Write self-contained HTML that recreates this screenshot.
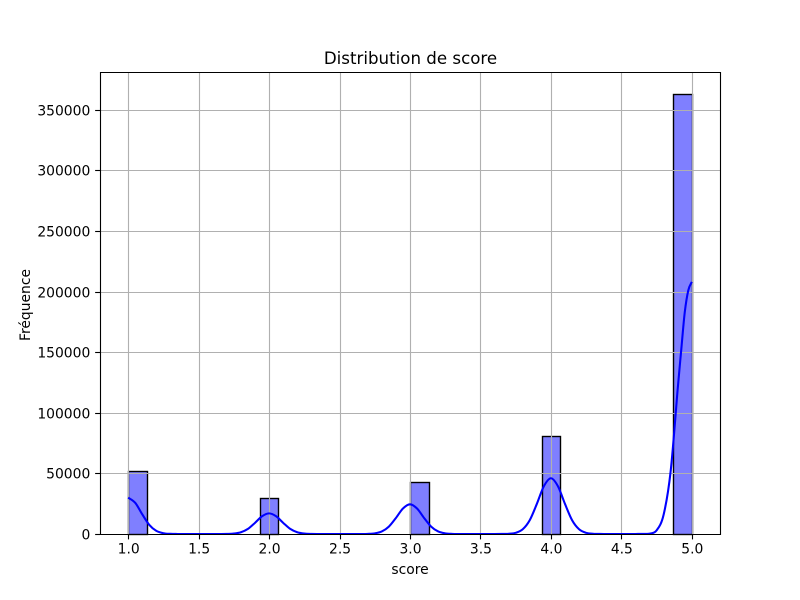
<!DOCTYPE html>
<html lang="fr">
<head>
<meta charset="utf-8">
<title>Distribution de score</title>
<style>
html,body{margin:0;padding:0;background:#fff;}
svg{display:block;}
text{font-family:"DejaVu Sans","Liberation Sans",sans-serif;fill:#000;}
</style>
</head>
<body>
<svg id="chart" xmlns="http://www.w3.org/2000/svg" width="800" height="600" viewBox="0 0 800 600">
  <rect x="0" y="0" width="800" height="600" fill="#ffffff"/>
  <rect x="100" y="72" width="620" height="462" fill="#ffffff"/>
  <g id="bars"></g>
  <g id="grid"></g>
  <path id="kde" fill="none" stroke="#0000ff" stroke-width="2.08" stroke-linejoin="round" stroke-linecap="butt"/>
  <g id="ticks"></g>
  <path d="M100.5 72.5H720.5V534.5H100.5Z" fill="none" stroke="#000" stroke-width="1.11"/>
  <text x="410.5" y="64.2" font-size="16.67" text-anchor="middle">Distribution de score</text>
  <text x="410" y="574" font-size="13.89" text-anchor="middle">score</text>
  <text transform="translate(30,305) rotate(-90)" font-size="13.89" text-anchor="middle">Fréquence</text>
</svg>
<script>
// Histogram: 30 bins spanning score 1 to 5
const binStart = 1;
const binEnd = 5;
const binCounts = [52000,0,0,0,0,0,0,30000,0,0,0,0,0,0,0,43000,0,0,0,0,0,0,81000,0,0,0,0,0,0,363000];
// KDE curve sampled every 0.05 score from 1.0 to 4.9, one row per unit of score
const kdeStep = 0.05;
const kdeValues = [
  30000,25700,16200,7500,2550,630,120,15,0,0,0,0,0,8,66,360,1450,4200,9200,14600,
  17000,14600,9200,4200,1450,360,66,8,0,0,0,0,0,12,95,515,2080,6100,13200,21000,
  24500,21000,13200,6100,2080,515,95,12,0,0,0,0,0,23,180,970,3900,11450,24800,39400,
  46000,39400,24800,11450,3900,970,180,23,0,0,0,0,20,60,300,3000,16000,52000,120000
];
// Last part of the KDE, sampled every 0.025 score from 4.925 to 5.0
const kdeTailStep = 0.025;
const kdeTailValues = [152000,183000,201000,208000];
const xTicks = [1.0,1.5,2.0,2.5,3.0,3.5,4.0,4.5,5.0];
const xTickLabels = ["1.0","1.5","2.0","2.5","3.0","3.5","4.0","4.5","5.0"];
const yTicks = [0,50000,100000,150000,200000,250000,300000,350000];
const yTickLabels = ["0","50000","100000","150000","200000","250000","300000","350000"];

const NS = "http://www.w3.org/2000/svg";
const plot = {left:100,right:720,top:72,bottom:534};
const xMin = binStart-(binEnd-binStart)*0.05, xMax = binEnd+(binEnd-binStart)*0.05;
const yMax = Math.max.apply(null,binCounts)*1.05;
function xScale(v){return plot.left+(v-xMin)/(xMax-xMin)*(plot.right-plot.left);}
function yScale(v){return plot.bottom-v/yMax*(plot.bottom-plot.top);}
function snap(p){return Math.round(p)+0.5;}
function make(tag,parent,attrs){
  const el=document.createElementNS(NS,tag);
  for(const k in attrs){el.setAttribute(k,attrs[k]);}
  parent.appendChild(el);
  return el;
}

const barsG=document.getElementById("bars");
const gridG=document.getElementById("grid");
const ticksG=document.getElementById("ticks");
const binWidth=(binEnd-binStart)/binCounts.length;
binCounts.forEach(function(c,i){
  if(c<=0){return;}
  const x0=snap(xScale(binStart+i*binWidth)), x1=snap(xScale(binStart+(i+1)*binWidth)), y=snap(yScale(c)), b=snap(plot.bottom);
  const bar=make("rect",barsG,{x:x0,y:y,width:x1-x0,height:b-y,fill:"rgba(0,0,255,0.5)",stroke:"#000","stroke-width":1.39});
  
  
});

xTicks.forEach(function(v,i){
  const x=snap(xScale(v));
  const g=make("line",gridG,{x1:x,x2:x,y1:plot.top,y2:plot.bottom,stroke:"#b0b0b0","stroke-width":1.11});
  
  
  const t=make("line",ticksG,{x1:x,x2:x,y1:plot.bottom,y2:plot.bottom+5.4,stroke:"#000","stroke-width":1.11});
  
  
  const l=make("text",ticksG,{x:xScale(v)+0.5,y:553.3,"font-size":13.89,"text-anchor":"middle"});
  l.textContent=xTickLabels[i];
  
  
});
yTicks.forEach(function(v,i){
  const y=snap(yScale(v));
  const g=make("line",gridG,{x1:plot.left,x2:plot.right,y1:y,y2:y,stroke:"#b0b0b0","stroke-width":1.11});
  
  
  const t=make("line",ticksG,{x1:plot.left-4.86,x2:plot.left,y1:y,y2:y,stroke:"#000","stroke-width":1.11});
  
  
  const l=make("text",ticksG,{x:90.3,y:y+5,"font-size":13.89,"text-anchor":"end"});
  l.textContent=yTickLabels[i];
  
  
});

const kdePts=kdeValues.map(function(v,i){
  return [xScale(binStart+i*kdeStep),yScale(v)];
});
kdeTailValues.forEach(function(v,i){
  kdePts.push([xScale(binStart+(kdeValues.length-1)*kdeStep+(i+1)*kdeTailStep),yScale(v)]);
});
let d="M"+kdePts[0][0].toFixed(2)+" "+kdePts[0][1].toFixed(2);
for(let i=0;i<kdePts.length-1;i++){
  const p0=kdePts[Math.max(i-1,0)],p1=kdePts[i],p2=kdePts[i+1],p3=kdePts[Math.min(i+2,kdePts.length-1)];
  const c1x=p1[0]+(p2[0]-p0[0])/6,c1y=Math.min(plot.bottom,p1[1]+(p2[1]-p0[1])/6);
  const c2x=p2[0]-(p3[0]-p1[0])/6,c2y=Math.min(plot.bottom,p2[1]-(p3[1]-p1[1])/6);
  d+="C"+c1x.toFixed(2)+" "+c1y.toFixed(2)+" "+c2x.toFixed(2)+" "+c2y.toFixed(2)+" "+p2[0].toFixed(2)+" "+p2[1].toFixed(2);
}
document.getElementById("kde").setAttribute("d",d);
</script>
</body>
</html>
